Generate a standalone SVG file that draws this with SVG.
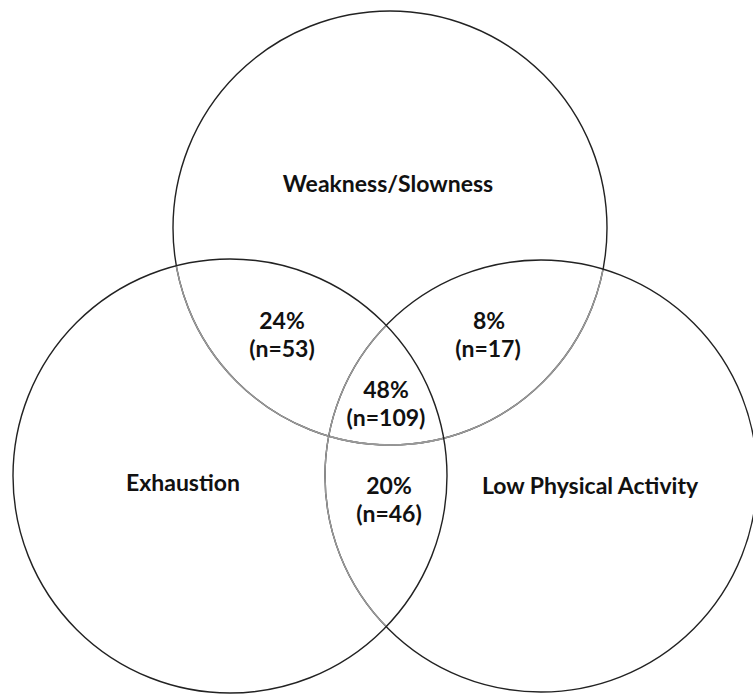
<svg xmlns="http://www.w3.org/2000/svg" width="753" height="695" viewBox="0 0 753 695">
<style>
.c{fill:none;stroke:#222;stroke-width:1.4}
.g{fill:none;stroke:#9a9a9a;stroke-width:1.4}
text{font-family:Lato,"Open Sans","Liberation Sans",sans-serif;font-weight:bold;font-size:23px;fill:#111;text-anchor:middle}
</style>
<defs>
<clipPath id="inL"><circle cx="230" cy="476" r="217"/></clipPath>
<clipPath id="inR"><circle cx="541" cy="476" r="216"/></clipPath>
</defs>
<rect width="753" height="695" fill="#fff"/>
<g id="circles">
<g id="weakness">
<circle class="c" cx="390" cy="228" r="217"/>
<circle class="g" cx="390" cy="228" r="217" clip-path="url(#inL)"/>
<circle class="g" cx="390" cy="228" r="217" clip-path="url(#inR)"/>
<text x="388" y="192">Weakness/Slowness</text>
</g>
<g id="lowpa">
<circle class="c" cx="541" cy="476" r="216"/>
<circle class="g" cx="541" cy="476" r="216" clip-path="url(#inL)"/>
<text x="590" y="494">Low Physical Activity</text>
</g>
<g id="exhaustion">
<circle class="c" cx="230" cy="476" r="217"/>
<text x="183" y="491">Exhaustion</text>
</g>
</g>
<g id="labels">
<text x="282" y="329">24%</text>
<text x="282" y="357">(n=53)</text>
<text x="489" y="329">8%</text>
<text x="488" y="357">(n=17)</text>
<text x="386" y="398">48%</text>
<text x="386" y="426">(n=109)</text>
<text x="389" y="494">20%</text>
<text x="389" y="522">(n=46)</text>
</g>
</svg>
